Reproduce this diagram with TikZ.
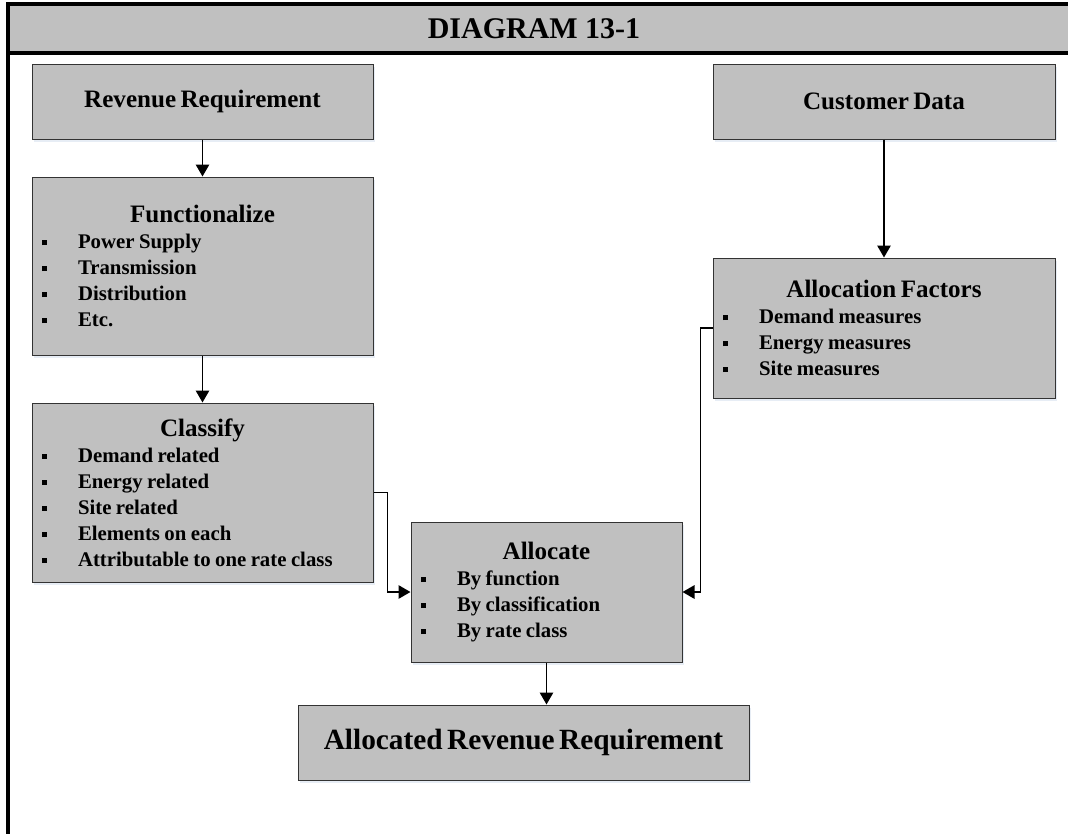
\documentclass[tikz,border=0pt]{standalone}
\usepackage{fontspec}
\setmainfont{Liberation Serif}
\usetikzlibrary{arrows.meta,shadows}
\setlength\parindent{0pt}

\definecolor{boxgray}{RGB}{192,192,192}
\definecolor{shadowblue}{RGB}{208,220,236}

\newcommand\sqbullet{\makebox[27pt][l]{\rule[2.5pt]{4pt}{4pt}}}
\newcommand\headfont{\fontsize{18.8}{22}\selectfont}
\newcommand\listfont{\fontsize{15.6}{19.5}\selectfont}

\tikzset{
  box/.style={draw=black!80, fill=boxgray, line width=0.75pt,
    inner xsep=7.5pt, inner ysep=0pt, align=left, font=\bfseries,
    drop shadow={shadow xshift=1.5pt, shadow yshift=-2.5pt, fill=shadowblue}},
  link/.style={line width=1.4pt, -{Triangle[length=9pt,width=10pt]}}
}

\begin{document}
\begin{tikzpicture}[x=0.75pt,y=-0.75pt]
        \useasboundingbox (0,0) rectangle (1068,833);

        % Title band and frame
        \draw[line width=2.3pt, fill=boxgray] (8,4) rectangle (1080,53);
        \draw[line width=2.3pt] (8,53) -- (8,840);
        \node[font=\bfseries\fontsize{22.5}{26}\selectfont] (title) at (534,29) {DIAGRAM 13-1};

        % Left column
        \node[box, minimum height=56.25pt, text width=240.75pt, align=center] (rev) at (202.5,101.5) {\headfont Revenue Requirement};
        \node[box, minimum height=133.5pt, text width=240.75pt] (func) at (202.5,266)
            {{\centering\headfont Functionalize\par}\listfont
             \sqbullet Power Supply\par
             \sqbullet Transmission\par
             \sqbullet Distribution\par
             \sqbullet Etc.\par};
        \node[box, minimum height=134.25pt, text width=240.75pt] (class) at (202.5,492.5)
            {{\centering\headfont Classify\par}\listfont
             \sqbullet Demand related\par
             \sqbullet Energy related\par
             \sqbullet Site related\par
             \sqbullet Elements on each\par
             \sqbullet Attributable to one rate class\par};

        % Right column
        \node[box, minimum height=56.25pt, text width=241.5pt, align=center] (cust) at (884,101.5) {\headfont Customer Data};
        \node[box, minimum height=105pt, text width=241.5pt] (factors) at (884,328)
            {{\centering\headfont Allocation Factors\par}\listfont
             \sqbullet Demand measures\par
             \sqbullet Energy measures\par
             \sqbullet Site measures\par};

        % Middle
        \node[box, minimum height=105pt, text width=188.25pt] (alloc) at (546.5,592)
            {{\centering\headfont Allocate\par}\listfont
             \sqbullet By function\par
             \sqbullet By classification\par
             \sqbullet By rate class\par};
        \node[box, minimum height=56.25pt, text width=323.25pt, align=center] (result) at (523.5,742.5)
            {\fontsize{22}{26}\selectfont Allocated Revenue Requirement};

        % Connectors
        \foreach \from/\to in {rev/func, func/class, cust/factors} {
            \draw[link] (\from) -- (\to);
        }
        \draw[link] (class.east) -- ++(14,0) |- (alloc.west);
        \draw[link] (factors.west) -- ++(-12,0) |- (alloc.east);
        \draw[link] (alloc.south) -- (alloc.south |- result.north);

\end{tikzpicture}
\end{document}
